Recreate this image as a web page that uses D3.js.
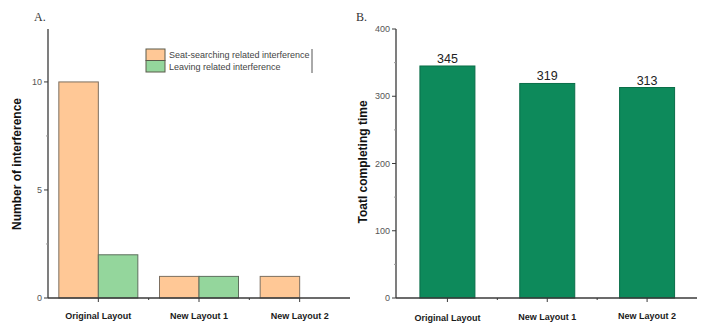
<!DOCTYPE html>
<html><head><meta charset="utf-8">
<script src="https://cdn.jsdelivr.net/npm/d3@7"></script>
<style>body{margin:0;background:#fff;}svg{display:block;}</style>
</head><body>
<svg id="c" width="704" height="324"></svg>
<script>
const categories = ["Original Layout", "New Layout 1", "New Layout 2"];
const seatSearching = [10, 1, 1];
const leaving = [2, 1, 0];
const completingTime = [345, 319, 313];
const ticksA = [0, 5, 10];
const ticksB = [0, 100, 200, 300, 400];
const seriesNames = ["Seat-searching related interference", "Leaving related interference"];

const svg = d3.select("#c");
const axisColor = "#3a3a3a";
const orange = "#FFC896", green = "#94D69C", darkGreen = "#0D8A5B";

function drawPanel(g, opts) {
  const x = d3.scaleLinear().domain([-0.5, 2.5]).range(opts.xr);
  const y = d3.scaleLinear().domain(opts.yd).range([298, 29]);
  opts.bars(g, x, y);
  const ax = opts.xr[0] - opts.yOff;
  g.append("line").attr("x1", ax).attr("x2", ax)
    .attr("y1", y(opts.yd[0])).attr("y2", y(opts.yd[1])).attr("stroke", axisColor).attr("stroke-width", 1.3);
  opts.ticks.forEach(t => {
    g.append("line").attr("x1", ax - 4).attr("x2", ax).attr("y1", y(t)).attr("y2", y(t)).attr("stroke", axisColor).attr("stroke-width", 1);
    g.append("text").attr("x", ax - 6).attr("y", y(t) + 3).attr("text-anchor", "end")
      .attr("font-family", "Liberation Sans, Arial, sans-serif").attr("font-size", 9).attr("fill", "#555").text(t);
  });
  opts.minor.forEach(t => {
    g.append("line").attr("x1", ax - 2).attr("x2", ax).attr("y1", y(t)).attr("y2", y(t)).attr("stroke", "#999").attr("stroke-width", 1);
  });
  g.append("line").attr("x1", ax).attr("x2", opts.xr[1]).attr("y1", 298).attr("y2", 298).attr("stroke", axisColor).attr("stroke-width", 1.3);
  categories.forEach((c, i) => {
    g.append("line").attr("x1", x(i)).attr("x2", x(i)).attr("y1", 298).attr("y2", 302).attr("stroke", axisColor).attr("stroke-width", 1);
    g.append("text").attr("x", x(i)).attr("y", opts.labY[i]).attr("text-anchor", "middle")
      .attr("font-family", "Liberation Sans, Arial, sans-serif").attr("font-size", 9).attr("font-weight", "bold").attr("fill", "#1a1a1a").text(c);
  });
  [0.5, 1.5].forEach(v => {
    g.append("line").attr("x1", x(v)).attr("x2", x(v)).attr("y1", 298).attr("y2", 300).attr("stroke", axisColor).attr("stroke-width", 1);
  });
  g.append("text").attr("transform", `translate(${opts.ylx},${opts.yly}) rotate(-90)`).attr("text-anchor", "middle")
    .attr("font-family", "Liberation Sans, Arial, sans-serif").attr("font-size", 12).attr("font-weight", "bold").attr("fill", "#111").text(opts.ylabel);
  g.append("text").attr("x", opts.letterX).attr("y", 21).attr("font-family", "Liberation Serif, Times New Roman, serif")
    .attr("font-size", 12).attr("fill", "#333").text(opts.letter);
}

drawPanel(svg.append("g"), {
  xr: [48, 350], yd: [0, 12.45], yOff: 0, ticks: ticksA, minor: [2.5, 7.5],
  labY: [319, 319, 319], ylx: 21, yly: 164, ylabel: "Number of interference", letter: "A.", letterX: 34,
  bars: (g, x, y) => {
    const bw = 39.5;
    categories.forEach((c, i) => {
      if (seatSearching[i] > 0)
        g.append("rect").attr("x", x(i) - bw).attr("width", bw).attr("y", y(seatSearching[i])).attr("height", y(0) - y(seatSearching[i]))
          .attr("fill", orange).attr("stroke", "#7d6f60").attr("stroke-width", 1);
      if (leaving[i] > 0)
        g.append("rect").attr("x", x(i)).attr("width", bw).attr("y", y(leaving[i])).attr("height", y(0) - y(leaving[i]))
          .attr("fill", green).attr("stroke", "#5d6f5d").attr("stroke-width", 1);
    });
  }
});

const lg = svg.append("g");
[orange, green].forEach((col, i) => {
  lg.append("rect").attr("x", 146).attr("y", 49 + i * 11.5).attr("width", 19).attr("height", 11.5)
    .attr("fill", col).attr("stroke", "#5a5a4a").attr("stroke-width", 1);
  lg.append("text").attr("x", 169).attr("y", 58 + i * 11.5).attr("font-family", "Liberation Sans, Arial, sans-serif")
    .attr("font-size", 9).attr("fill", "#444").text(seriesNames[i]);
});
lg.append("line").attr("x1", 312).attr("x2", 312).attr("y1", 49).attr("y2", 73).attr("stroke", "#555").attr("stroke-width", 1);

drawPanel(svg.append("g"), {
  xr: [397.5, 697], yd: [0, 400], yOff: 1.5, ticks: ticksB, minor: [50, 150, 250, 350],
  labY: [321, 320, 319], ylx: 367, yly: 162, ylabel: "Toatl completing time", letter: "B.", letterX: 356,
  bars: (g, x, y) => {
    const bw = 55;
    completingTime.forEach((v, i) => {
      g.append("rect").attr("x", x(i) - bw / 2).attr("width", bw).attr("y", y(v)).attr("height", y(0) - y(v))
        .attr("fill", darkGreen).attr("stroke", "#0a6e48").attr("stroke-width", 1);
      g.append("text").attr("x", x(i)).attr("y", y(v) - 3).attr("text-anchor", "middle")
        .attr("font-family", "Liberation Sans, Arial, sans-serif").attr("font-size", 12.5).attr("fill", "#222").text(v);
    });
  }
});
</script>
</body></html>
